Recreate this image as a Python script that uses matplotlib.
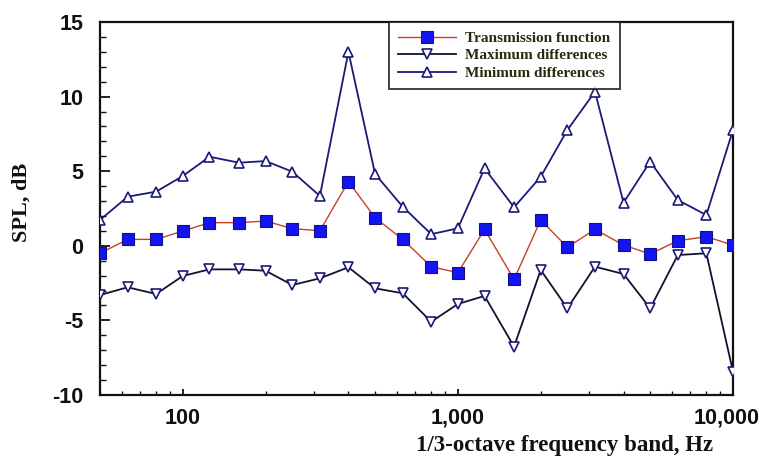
import matplotlib
matplotlib.use("Agg")
import matplotlib.pyplot as plt
from matplotlib.ticker import FixedLocator, LogLocator, MultipleLocator, NullFormatter
import matplotlib.transforms as mtransforms

plt.rcParams["axes.unicode_minus"] = False

freqs = [50, 63, 80, 100, 125, 160, 200, 250, 315, 400, 500, 630, 800, 1000,
         1250, 1600, 2000, 2500, 3150, 4000, 5000, 6300, 8000, 10000]
transmission = [-0.50, 0.43, 0.43, 0.99, 1.55, 1.55, 1.66, 1.15, 1.01, 4.30, 1.88, 0.43,
                -1.40, -1.80, 1.10, -2.25, 1.73, -0.10, 1.10, 0.05, -0.55, 0.34, 0.61, 0.05]
max_diff = [-3.30, -2.78, -3.23, -2.02, -1.58, -1.58, -1.67, -2.63, -2.18, -1.44, -2.85, -3.18,
            -5.09, -3.90, -3.36, -6.76, -1.62, -4.19, -1.40, -1.89, -4.19, -0.62, -0.50, -8.44]
min_diff = [1.73, 3.29, 3.63, 4.68, 5.97, 5.57, 5.68, 4.97, 3.34, 13.0, 4.81, 2.62,
            0.78, 1.17, 5.19, 2.58, 4.63, 7.76, 10.33, 2.89, 5.64, 3.07, 2.06, 7.76]
x_ticks = [100, 1000, 10000]
x_ticklabels = ["100", "1,000", "10,000"]
y_ticks = [-10, -5, 0, 5, 10, 15]
labels = ["Transmission function", "Maximum differences", "Minimum differences"]

fig = plt.figure(figsize=(7.65, 4.58), dpi=100)
ax = fig.add_axes([100/765, 1-395/458, 633/765, 373/458])

navy = "#1a1a78"
ax.plot(freqs, transmission, color="#c8402a", lw=1.0, marker="s", ms=8.5,
        mfc="#1414f0", mec="#10108a", mew=0.8, label=labels[0], zorder=4)
ax.plot(freqs, max_diff, color="#121230", lw=1.3, marker="v", ms=7.5,
        mfc="white", mec=navy, mew=1.2, label=labels[1], zorder=3)
ax.plot(freqs, min_diff, color=navy, lw=1.3, marker="^", ms=7.5,
        mfc="white", mec=navy, mew=1.2, label=labels[2], zorder=3)

ax.set_xscale("log")
ax.set_xlim(50, 10000)
ax.set_ylim(-10, 15)
ax.xaxis.set_major_locator(FixedLocator(x_ticks))
ax.set_xticklabels(x_ticklabels)
ax.xaxis.set_minor_locator(LogLocator(base=10, subs=range(2, 10)))
ax.xaxis.set_minor_formatter(NullFormatter())
ax.set_yticks(y_ticks)
ax.yaxis.set_minor_locator(MultipleLocator(1))

for sp in ax.spines.values():
    sp.set_linewidth(1.6)
    sp.set_color("#111111")

ax.tick_params(axis="both", which="both", direction="in", top=False, right=False,
               colors="#111111")
ax.tick_params(axis="y", which="major", length=7, width=1.3, pad=12)
ax.tick_params(axis="y", which="minor", length=4, width=1.0)
ax.tick_params(axis="x", which="major", length=4, width=1.3, pad=9)
ax.tick_params(axis="x", which="minor", length=3, width=1.0)
for lab in ax.get_xticklabels() + ax.get_yticklabels():
    lab.set_fontfamily("Liberation Sans")
    lab.set_fontweight("bold")
    lab.set_fontsize(15.5)
last = ax.get_xticklabels()[-1]
last.set_transform(last.get_transform() + mtransforms.ScaledTranslation(-6/100, 0, fig.dpi_scale_trans))

leg = ax.legend(loc="upper left", bbox_to_anchor=((389-100)/633, 1.0), borderaxespad=0,
                frameon=True, fancybox=False, handlelength=3.8, handletextpad=0.6,
                labelspacing=0.25, borderpad=0.6,
                prop={"family": "Liberation Serif", "weight": "bold", "size": 11})
leg.get_frame().set_edgecolor("#111111")
leg.get_frame().set_linewidth(1.4)
for t in leg.get_texts():
    t.set_color("#2a2a10")

fig.text(565/765, 1-446/458, "1/3-octave frequency band, Hz", ha="center", va="center",
         fontfamily="Liberation Serif", fontweight="bold", fontsize=16.5, color="#111111")
fig.text(22/765, 1-202/458, "SPL, dB", ha="center", va="center", rotation=90,
         fontfamily="Liberation Serif", fontweight="bold", fontsize=16, color="#111111")

fig.savefig("out.png", dpi=100)
